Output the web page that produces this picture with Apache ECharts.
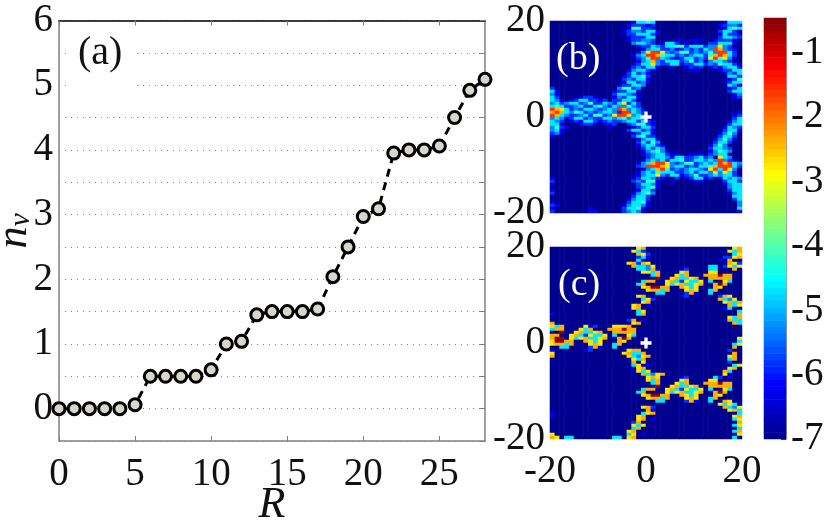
<!DOCTYPE html>
<html>
<head>
<meta charset="utf-8">
<style>
  html, body { margin: 0; padding: 0; background: #fff; }
  #main { width: 831px; height: 525px; }
</style>
<script src="https://cdn.jsdelivr.net/npm/echarts@6/dist/echarts.min.js"></script>
</head>
<body>
<div id="main"></div>
<script>
// panel (a)
const radius = [0,1,2,3,4,5,6,7,8,9,10,11,12,13,14,15,16,17,18,19,20,21,22,23,24,25,26,27,28];
const vortices = [0,0,0,0,0,0.06,0.5,0.5,0.5,0.5,0.6,1,1.04,1.45,1.5,1.5,1.5,1.54,2.04,2.5,2.97,3.09,3.95,4,4,4.06,4.5,4.92,5.09];
const rTicks = [0,5,10,15,20,25];
const nTicks = [0,1,2,3,4,5,6];

// colour levels used by the maps below, "." is -7, "A" is level 10
const levels = [-7,-6.3,-5.85,-5.3,-4.7,-4.2,-3.6,-2.75,-2.4,-1.6,-0.6];

// panels (b) and (c), one string per row from the top, "startColumn:levels"
const densityB = [
  "17:1 18:4454 36:1 37:444",
  "16:122212 35:1 36:2332",
  "16:15522 21:1 36:1 37:454",
  "15:12332 20:441 35:2442",
  "16:2 17:2444 21:21 35:14 37:221",
  "16:1 17:2221 20:44 35:2 36:4432",
  "16:12 18:2332 26:11 29:111 34:1 35:222 38:1",
  "17:3443 21:2 23:1 24:44 26:2 28:1 30:1 33:2 34:2 35:4441",
  "18:1224 22:3 23:2 24:445 27:5 28:2 29:444 32:2 33:3 34:3 35:7 36:3 37:2",
  "19:13 21:44 23:2 24:23 26:12 28:3 29:2 30:3 31:2 32:4 33:3 34:9 35:8 36:3 37:21",
  "18:13 20:7997 24:3 25:2 26:3 27:55 29:2 30:3 31:2 32:3 33:5 34:3 35:99 37:4 38:2",
  "17:134 20:998 23:5 24:44 26:2 27:3 28:2 29:3 30:44 32:2 33:5 34:8 35:9 36:8 37:4 38:2",
  "18:23 20:5 21:99 23:4 24:3 25:2 26:1 27:2 28:44 30:2 31:3 32:2 33:7 34:9 35:5 36:7 37:3 38:1",
  "18:134 21:8 22:3 23:2 24:444 27:2 28:3 29:5 30:2 31:3 32:1 33:3 34:44 36:3 37:2",
  "17:12 19:44 21:7 22:3 23:2 24:2 25:44 27:1 28:2 29:2 30:44 32:2 33:3 34:2 35:5 36:44 38:21",
  "17:23 19:2 20:44 22:1 25:1 28:1 29:2 30:1 31:2 33:1 34:2 35:1 36:3 37:44 39:1",
  "16:13 18:44 20:21 29:1 30:1 35:1 36:2 37:2 38:44",
  "16:24 18:2 19:3 20:1 36:1 37:3 38:2 39:4",
  "15:12 17:44 19:5 20:2 37:44 39:2",
  "15:2 16:3 17:2 18:44 20:1 37:1 38:2 39:5",
  "15:1 16:44 18:2 19:3 20:1 36:1 37:2 38:44",
  "14:1 15:2 16:2 17:44 19:3 37:4 38:3 39:1",
  "0:2 14:3 15:55 17:2 18:3 37:1 38:2 39:4",
  "0:4 1:1 13:1 14:2 15:2 16:44 18:1 37:2 38:44",
  "0:31 13:2 14:44 16:3 17:2 38:13",
  "0:42 6:1221 13:1 14:3 15:2 16:44 18:1 38:12",
  "0:43 2:1 4:1 5:2 6:4 7:4 8:2 9:2 10:1 11:2 13:2 14:2 15:44 17:2",
  "0:3 1:4 2:2 3:3 4:4 5:4 6:2 7:3 8:5 9:2 10:2 11:4 12:3 13:2 14:4 15:7 16:2 17:4 18:2",
  "0:4 1:5 2:4 3:2 4:2 5:3 6:4 7:2 8:2 9:4 10:5 11:3 12:2 13:4 14:3 15:3 16:5 17:3 18:2",
  "0:98 2:7 3:4 4:2 5:3 6:2 7:4 8:4 9:3 10:2 11:3 12:4 13:3 14:9 15:8 16:3 17:4 18:3 19:1",
  "0:898 3:4 4:3 5:5 6:4 7:2 8:3 9:2 10:3 11:44 13:3 14:2 15:99 17:4 18:3 19:2 39:1",
  "0:98 2:4 3:3 4:2 5:2 6:3 7:4 8:2 9:5 10:5 11:2 12:3 13:7 14:9 15:9 16:7 17:3 18:4 19:2 20:1 38:12",
  "0:3 1:4 2:3 3:1 4:2 5:44 7:2 8:3 9:2 10:2 11:44 13:3 14:4 15:5 16:3 17:44 19:3 20:1 38:24",
  "0:4 1:3 2:2 4:1 5:2 6:1 7:44 9:2 10:1 11:2 12:3 13:2 14:2 15:3 16:44 18:2 19:4 20:21 37:1 38:3 39:4",
  "0:44 2:1 6:1 7:2 8:2 9:1 11:1 12:1 13:2 16:2 17:3 18:55 20:2 21:1 37:2 38:44",
  "0:3 1:5 2:2 3:1 12:1 17:1 18:2 19:4 20:4 21:2 36:1 37:4 38:3 39:2",
  "0:34 2:1 16:2 17:44 19:2 20:3 21:1 36:2 37:44 39:1",
  "0:23 2:1 17:1 18:2 19:44 21:1 35:1 36:3 37:5 38:3",
  "0:1 17:2 18:4 19:5 20:2 21:2 35:2 36:44 38:2",
  "18:13 20:44 22:1 34:1 35:3 36:5 37:3 38:1",
  "18:24 20:2 21:5 22:3 34:2 35:4 36:4 37:2",
  "18:1 19:3 20:44 22:21 33:1 34:3 35:5 36:3",
  "19:2 20:4 21:2 22:4 23:3 33:2 34:4 35:4 36:3 37:2",
  "19:1 20:3 21:4 22:5 23:3 24:1 33:1 34:3 35:5 36:4 37:3",
  "19:12 21:3 22:44 24:2 25:1 26:1 29:1 30:11 33:2 34:3 35:4 36:4",
  "20:2 21:3 22:44 24:3 25:1 26:44 28:2 29:2 30:3 31:4 32:2 33:3 35:7 36:4 37:3",
  "19:13 21:4 22:3 23:4 24:2 25:44 27:5 28:2 29:2 30:44 32:3 33:4 34:3 35:9 36:3 37:2 38:1",
  "18:13 20:4 21:8 22:9 23:9 24:7 25:3 26:2 27:3 28:55 30:2 31:3 32:4 33:3 34:4 35:9 36:8 37:9 38:4 39:3",
  "18:23 20:9998 24:7 25:3 26:44 28:2 29:3 30:2 31:44 33:5 34:8 35:9 36:9 37:9 38:4 39:2",
  "19:1 20:3 21:4 22:8 23:9 24:5 25:2 26:3 27:2 28:3 29:44 31:3 32:2 33:7 34:9 35:4 36:9 37:7 38:3",
  "18:13 20:4 21:3 22:5 23:4 24:44 26:2 27:2 28:3 29:4 30:2 31:44 33:3 34:7 35:3 36:7 37:4 38:2",
  "18:13 20:4 21:4 22:7 23:3 24:2 25:44 27:1 28:2 29:3 30:5 31:2 32:2 33:3 34:4 35:3 36:44 38:2",
  "0:1 17:12 19:44 21:3 22:2 23:1 26:2 28:1 29:2 30:44 32:1 33:2 35:1 36:4 37:3 38:4 39:3",
  "0:2 17:23 19:2 20:55 22:1 25:1 30:1 31:1 36:2 37:44 39:2",
  "0:1 18:2 19:44 21:3 22:1 36:1 37:3 38:44",
  "18:2 19:3 20:45 22:1 37:3 38:4 39:4",
  "0:1 18:1 19:44 21:2 37:2 38:44",
  "0:2 17:13 19:4 20:5 21:3 37:1 38:3 39:4",
  "17:2 18:44 20:2 38:44",
  "16:1 17:3 18:44 20:2 38:2 39:4",
  "0:1 16:2 17:44 19:5 20:1 39:3",
  "0:21 15:1 16:3 17:4 18:4 19:3 20:1 39:3",
  "0:1 8:1 15:2 16:44 18:5 19:1 39:4",
  "0:2 8:11 15:2 16:3 17:4 18:3 19:1 39:1"
];

const densityC = [
  "18:78 38:78",
  "17:74 19:2 37:748",
  "18:87 20:2 38:47",
  "18:24 20:1 36:22 38:78",
  "18:4 19:1 35:1 37:8",
  "16:78 18:2 19:87 37:87 39:2",
  "17:8443 21:7 33:44 36:2 37:7 38:47",
  "18:4438 22:1 27:12 33:44 38:8",
  "19:7 20:7 21:44 22:8 27:78 33:78 34:7",
  "21:48 26:7 27:44 28:8 32:8 33:8 34:8 35:A 36:88",
  "22:A 25:78 27:44 29:78 33:88 35:8 36:84 37:8",
  "19:44 20:8 21:8 24:78 26:4 27:2 28:7 29:44 31:7 33:4 36:7 37:4",
  "18:4 19:8 24:7 25:4 26:78 28:44 30:78 34:8 35:A 36:8",
  "19:7 20:8 21:AA 23:88 27:8 28:7 29:4 30:7 34:88 35:7",
  "20:7 21:8 22:8 23:48 28:78 30:7 33:44 34:8",
  "22:44 28:2 29:8 30:1 33:4",
  "18:7 19:8 27:1 28:2 35:2 36:87",
  "19:4 20:7 21:2 35:8 36:4 37:3 38:7",
  "19:7 20:8 36:7 37:8 38:4 39:8",
  "17:78 20:1 37:8 38:47",
  "17:7 18:8 36:1 37:4",
  "18:47 39:4",
  "0:1 18:48 39:8",
  "37:78 38:47 39:8",
  "16:2 17:8 19:1 37:8 38:4 39:4",
  "0:8 17:78 38:8 39:44",
  "0:7 1:44 2:8 7:78 8:12 13:78 14:7 15:78",
  "0:48 2:8 6:7 7:44 8:8 12:8 13:8 14:8 15:A 16:88",
  "2:A 5:78 7:44 9:78 13:88 15:8 16:84 17:8",
  "0:8 1:8 4:78 6:4 7:2 8:7 9:44 11:7 13:4 16:7 17:4",
  "0:8 1:AA 4:7 5:4 6:78 8:44 10:78 14:8 15:A 16:8 39:7",
  "0:7 1:AA 3:88 7:8 8:7 9:4 10:7 14:88 15:7 39:4",
  "0:7 1:8 2:8 3:48 8:78 10:7 13:44 14:8 38:47",
  "2:44 8:2 9:8 10:1 13:4 38:8",
  "0:1 7:1 8:2 16:7 17:8 18:8 37:2",
  "0:7 15:78 17:44 19:8 38:8",
  "0:8 16:7 17:4 18:3 19:7 20:8 37:78",
  "17:7 18:4 19:8 37:48",
  "17:8 19:7 37:2",
  "17:4 18:7 20:1 38:47",
  "18:78 37:78",
  "17:1 18:78 19:44 20:7 36:8 37:4",
  "19:8 20:4 21:3 22:78 36:7",
  "20:78 22:7 27:12 34:4 35:2 37:1",
  "20:7 21:44 22:8 27:78 33:78 34:7",
  "21:48 26:7 27:44 28:8 32:8 33:8 34:8 35:A 36:88",
  "22:A 25:78 27:44 29:78 33:88 35:8 36:84 37:8",
  "19:44 20:8 21:8 24:78 26:4 27:2 28:7 29:44 31:7 33:4 36:7 37:4",
  "18:4 19:8 24:7 25:4 26:78 28:44 30:78 34:8 35:A 36:8",
  "19:7 20:8 21:AA 23:88 27:8 28:7 29:4 30:7 34:88 35:7",
  "20:7 21:8 22:8 23:48 28:78 30:7 33:44 34:8",
  "22:44 28:2 29:8 30:1 33:4 36:8 37:7",
  "35:7 36:47 38:4",
  "19:78 21:2 36:8 37:4 38:3 39:7",
  "20:87 21:1 37:7 38:8 39:4",
  "0:1 19:478 39:4",
  "0:1 18:78 38:78",
  "18:7 19:8 21:1 38:4 39:7",
  "17:2 18:8 39:8",
  "17:78 18:4 19:7 38:47",
  "17:4 18:8 39:4",
  "16:78 38:47 39:8",
  "0:7 16:47 19:1 39:7",
  "0:87 3:44 13:44 16:78 38:4"
];

const barLevels = [-6.98,-6.88,-6.78,-6.68,-6.57,-6.47,-6.37,-6.27,-6.16,-6.06,-5.96,-5.86,-5.75,-5.65,-5.55,-5.45,
  -5.34,-5.24,-5.14,-5.04,-4.93,-4.83,-4.73,-4.63,-4.52,-4.42,-4.32,-4.22,-4.11,-4.01,-3.91,-3.81,
  -3.70,-3.60,-3.50,-3.40,-3.29,-3.19,-3.09,-2.99,-2.88,-2.78,-2.68,-2.58,-2.47,-2.37,-2.27,-2.17,
  -2.06,-1.96,-1.86,-1.76,-1.65,-1.55,-1.45,-1.35,-1.24,-1.14,-1.04,-0.94,-0.83,-0.73,-0.63,-0.53];
const barTicks = [-7,-6,-5,-4,-3,-2,-1];
const mapTicks = [-20,0,20];
const plusPoint = [[0, 0]];

const jet = ['#00008f','#0000ff','#0080ff','#00ffff','#80ff80','#ffff00','#ff8000','#ff0000','#800000'];
const serif = '"Liberation Serif", serif';
const COLS = 40, ROWS = 64;

// unpack a map into [col, row, value] cells, row 0 of the axis is the bottom
function toCells(rows) {
  const grid = [];
  for (let r = 0; r < ROWS; r++) grid.push(new Array(COLS).fill(0));
  rows.forEach((line, r) => {
    line.split(' ').forEach(seg => {
      const [start, codes] = seg.split(':');
      [...codes].forEach((c, i) => {
        const col = +start + i;
        if (col < COLS) grid[r][col] = c === 'A' ? 10 : +c;
      });
    });
  });
  const cells = [];
  grid.forEach((row, r) => row.forEach((lv, c) => cells.push([c, ROWS - 1 - r, levels[lv]])));
  return cells;
}

const colNames = Array.from({ length: COLS }, (_, i) => i);
const rowNames = Array.from({ length: ROWS }, (_, i) => i);
const labelFont = { fontFamily: serif, fontSize: 39, color: '#111' };
const PLUS = 'path://M3.5 0h3v3.5H10v3H6.5V10h-3V6.5H0v-3h3.5z';

function hiddenCat(data, gridIndex, position) {
  return { type: 'category', data, gridIndex, position, show: false, boundaryGap: true };
}

const chart = echarts.init(document.getElementById('main'), null, { renderer: 'canvas' });

chart.setOption({
  animation: false,
  backgroundColor: '#fff',
  grid: [
    { left: 59, top: 20.5, width: 426, height: 420.5, outerBoundsMode: 'none' },
    { left: 550, top: 21, width: 192, height: 192, outerBoundsMode: 'none' },
    { left: 550, top: 247, width: 192, height: 192, outerBoundsMode: 'none' },
    { left: 764, top: 18, width: 22, height: 421, outerBoundsMode: 'none' }
  ],
  visualMap: {
    show: false, min: -7, max: -0.46, seriesIndex: [1, 2, 5],
    calculable: false, inRange: { color: jet }
  },
  xAxis: [
    { // 0: panel (a) bottom
      type: 'value', gridIndex: 0, position: 'bottom', min: 0, max: 28, interval: 5,
      name: 'R', nameLocation: 'middle', nameGap: 42, nameMoveOverlap: false,
      nameTextStyle: { fontFamily: serif, fontSize: 44, fontStyle: 'italic', color: '#111' },
      axisLine: { onZero: false, lineStyle: { color: '#808080', width: 1.5 } },
      axisTick: { inside: true, length: 5, lineStyle: { color: '#808080' }, customValues: rTicks },
      axisLabel: { ...labelFont, margin: 14, customValues: rTicks },
      splitLine: { show: false }
    },
    { // 1: panel (a) top
      type: 'value', gridIndex: 0, position: 'top', min: 0, max: 28, interval: 5,
      axisLine: { onZero: false, lineStyle: { color: '#000', width: 1.5 } },
      axisTick: { inside: true, length: 5, lineStyle: { color: '#808080' }, customValues: rTicks },
      axisLabel: { show: false },
      splitLine: { show: false }
    },
    hiddenCat(colNames, 1, 'top'), // 2
    { // 3: panel (b)
      type: 'value', gridIndex: 1, position: 'bottom', min: -20, max: 20, interval: 20,
      axisLine: { show: false }, axisTick: { show: false }, axisLabel: { show: false }, splitLine: { show: false }
    },
    hiddenCat(colNames, 2, 'top'), // 4
    { // 5: panel (c)
      type: 'value', gridIndex: 2, position: 'bottom', min: -20, max: 20, interval: 20,
      axisLine: { show: false }, axisTick: { show: false },
      axisLabel: { ...labelFont, margin: 13, customValues: mapTicks }, splitLine: { show: false }
    },
    hiddenCat(['bar'], 3, 'bottom') // 6
  ],
  yAxis: [
    { // 0: panel (a) left
      type: 'value', gridIndex: 0, min: -0.5, max: 6, interval: 0.5,
      name: '{n|n}{v|v}', nameLocation: 'middle', nameGap: 23, nameRotate: 90, nameMoveOverlap: false,
      nameTextStyle: {
        rich: {
          n: { fontFamily: serif, fontSize: 44, fontStyle: 'italic', color: '#111' },
          v: { fontFamily: serif, fontSize: 30, fontStyle: 'italic', color: '#111', verticalAlign: 'bottom', padding: [12, 0, 0, 0] }
        }
      },
      axisLine: { show: true, onZero: false, lineStyle: { color: '#808080', width: 1.5 } },
      axisTick: { show: false },
      axisLabel: { ...labelFont, margin: 6, customValues: nTicks },
      splitLine: { show: true, lineStyle: { color: '#8a8a8a', width: 1, type: [1, 5] } }
    },
    { // 1: panel (a) right
      type: 'value', gridIndex: 0, position: 'right', min: -0.5, max: 6, interval: 0.5,
      axisLine: { show: true, onZero: false, lineStyle: { color: '#808080', width: 1.5 } },
      axisTick: { show: true, inside: true, length: 5, lineStyle: { color: '#808080' } },
      axisLabel: { show: false }, splitLine: { show: false }
    },
    hiddenCat(rowNames, 1, 'right'), // 2
    { // 3: panel (b)
      type: 'value', gridIndex: 1, position: 'left', min: -20, max: 20, interval: 20,
      axisLine: { show: false }, axisTick: { show: false },
      axisLabel: { ...labelFont, margin: 5, customValues: mapTicks }, splitLine: { show: false }
    },
    hiddenCat(rowNames, 2, 'right'), // 4
    { // 5: panel (c)
      type: 'value', gridIndex: 2, position: 'left', min: -20, max: 20, interval: 20,
      axisLine: { show: false }, axisTick: { show: false },
      axisLabel: { ...labelFont, margin: 5, customValues: mapTicks }, splitLine: { show: false }
    },
    hiddenCat(barLevels.map(String), 3, 'left'), // 6
    { // 7: colour bar
      type: 'value', gridIndex: 3, position: 'right', min: -7, max: -0.46, interval: 1,
      axisLine: { show: true, onZero: false, lineStyle: { color: '#808080', width: 1.5 } },
      axisTick: { show: true, inside: true, length: 5, lineStyle: { color: '#444' }, customValues: barTicks },
      axisLabel: { ...labelFont, margin: 5, padding: [6, 0, 0, 0], customValues: barTicks }, splitLine: { show: false }
    }
  ],
  series: [
    {
      type: 'line', name: 'nv', xAxisIndex: 0, yAxisIndex: 0, z: 5,
      data: radius.map((r, i) => [r, vortices[i]]),
      clip: false, symbol: 'circle', symbolSize: 12,
      itemStyle: { color: '#d8d5cb', borderColor: '#000', borderWidth: 3 },
      lineStyle: { color: '#000', width: 3, type: [8, 6] }
    },
    { type: 'heatmap', xAxisIndex: 2, yAxisIndex: 2, data: toCells(densityB), progressive: 0 },
    { type: 'heatmap', xAxisIndex: 4, yAxisIndex: 4, data: toCells(densityC), progressive: 0 },
    {
      type: 'scatter', xAxisIndex: 3, yAxisIndex: 3, z: 6, data: plusPoint,
      symbol: PLUS, symbolSize: 11, itemStyle: { color: '#fff', opacity: 1 }
    },
    {
      type: 'scatter', xAxisIndex: 5, yAxisIndex: 5, z: 6, data: plusPoint,
      symbol: PLUS, symbolSize: 11, itemStyle: { color: '#fff', opacity: 1 }
    },
    {
      type: 'heatmap', xAxisIndex: 6, yAxisIndex: 6, progressive: 0,
      data: barLevels.map((v, i) => [0, i, v])
    }
  ],
  graphic: [
    { type: 'text', left: 68, top: 33, z: 3, style: { text: ' (a) ', font: '40px ' + serif, fill: '#111', backgroundColor: '#fff', padding: [0, 0, 20, 0] } },
    { type: 'text', left: 556, top: 40, z: 20, style: { text: '(b)', font: '38px ' + serif, fill: '#fff' } },
    { type: 'text', left: 558, top: 266, z: 20, style: { text: '(c)', font: '38px ' + serif, fill: '#fff' } }
  ]
});
</script>
</body>
</html>
